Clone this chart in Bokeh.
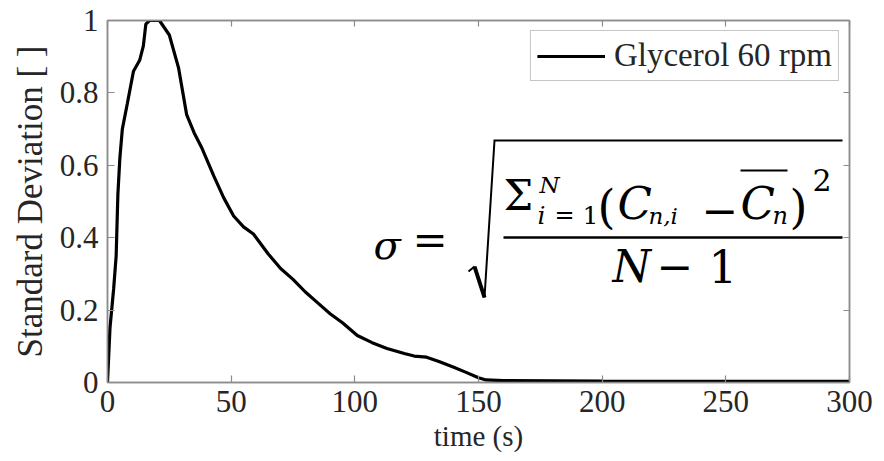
from bokeh.plotting import figure
from bokeh.models import Label, LinearAxis, FixedTicker, Range1d
from bokeh.embed import file_html
from bokeh.resources import INLINE

# ---- data ----
time_s = [0, 1, 2.5, 3.5, 4.2, 5, 6, 8, 10.5, 13, 14.5, 15.5, 17, 19, 21, 23, 25,
          28.7, 32, 35, 38, 43, 47, 51, 55, 59, 65, 70, 75, 80, 85, 90, 95, 101,
          107, 113, 120, 124, 129, 134, 140, 145, 150, 153, 160, 200, 250, 300]
std_dev = [0, 0.15, 0.26, 0.35, 0.52, 0.62, 0.70, 0.77, 0.86, 0.89, 0.93, 0.99,
           1.0, 1.0, 1.0, 0.98, 0.96, 0.87, 0.74, 0.69, 0.65, 0.57, 0.51, 0.46,
           0.43, 0.41, 0.355, 0.315, 0.285, 0.25, 0.22, 0.19, 0.165, 0.13, 0.11,
           0.094, 0.08, 0.073, 0.07, 0.058, 0.042, 0.028, 0.013, 0.007, 0.005,
           0.004, 0.003, 0.003]
series_name = "Glycerol 60 rpm"
x_ticks = [0, 50, 100, 150, 200, 250, 300]
y_ticks = [0, 0.2, 0.4, 0.6, 0.8, 1]
y_tick_labels = ["0", "0.2", "0.4", "0.6", "0.8", "1"]
x_label = "time (s)"
y_label = "Standard Deviation [ ]"

FONT = "Liberation Serif"
MATH = "DejaVu Serif"
AXIS_COL = "#8c8c8c"
TXT_COL = "#262626"

p = figure(width=884, height=461, output_backend="svg", toolbar_location=None,
           x_range=Range1d(0, 300), y_range=Range1d(0, 1),
           min_border_left=107, min_border_right=35, min_border_top=20,
           min_border_bottom=79)
p.grid.visible = False
p.outline_line_color = AXIS_COL
p.outline_line_width = 1.5
p.background_fill_color = "white"
p.border_fill_color = "white"

xa = p.xaxis[0]
ya = p.yaxis[0]
xa.axis_label = x_label
ya.axis_label = y_label
xa.ticker = FixedTicker(ticks=x_ticks)
ya.ticker = FixedTicker(ticks=y_ticks)
ya.major_label_overrides = {t: l for t, l in zip(y_ticks, y_tick_labels)}
xa.major_label_overrides = {t: str(t) for t in x_ticks}

for ax in (xa, ya):
    ax.axis_line_color = AXIS_COL
    ax.axis_line_width = 1.5
    ax.major_tick_line_color = AXIS_COL
    ax.major_tick_line_width = 1.2
    ax.major_tick_in = 7
    ax.major_tick_out = 0
    ax.minor_tick_line_color = None
    ax.major_label_text_font_size = "31px"
    ax.major_label_text_color = TXT_COL
    ax.axis_label_text_font_style = "normal"
    ax.axis_label_text_color = TXT_COL

xa.major_label_text_font = FONT
xa.axis_label_text_font = FONT
ya.major_label_text_font = "Times New Roman"
ya.axis_label_text_font = "Times New Roman"

ya.major_label_standoff = 9
ya.axis_label_text_font_size = "35px"
ya.axis_label_standoff = 7
xa.major_label_standoff = 8
xa.axis_label_text_font_size = "29px"
xa.axis_label_standoff = 5

# box ticks on top and right (no labels)
for loc, tk in (("above", x_ticks), ("right", y_ticks)):
    ax = LinearAxis(ticker=FixedTicker(ticks=tk))
    ax.axis_line_color = AXIS_COL
    ax.axis_line_width = 1.5
    ax.major_tick_line_color = AXIS_COL
    ax.major_tick_line_width = 1.2
    ax.major_tick_in = 6
    ax.major_tick_out = 0
    ax.minor_tick_line_color = None
    ax.major_label_text_font = FONT
    ax.axis_label_text_font = FONT
    ax.major_label_text_font_size = "0px"
    ax.major_label_text_color = None
    ax.major_label_standoff = 0
    p.add_layout(ax, loc)

p.line(time_s, std_dev, line_color="black", line_width=3.2, legend_label=series_name)

lg = p.legend[0]
lg.location = "top_right"
lg.margin = 10
lg.padding = 6
lg.spacing = 0
lg.border_line_color = AXIS_COL
lg.border_line_width = 1.5
lg.background_fill_alpha = 1
lg.label_text_font = FONT
lg.label_text_font_size = "33px"
lg.label_text_color = TXT_COL
lg.glyph_width = 68
lg.glyph_height = 20
lg.label_standoff = 9
lg.label_height = 20

# ---- formula annotation (page pixel -> data) ----
FL, FR, FT, FB = 107.0, 849.0, 20.0, 382.0
def dx(px):
    return (px - FL) / (FR - FL) * 300.0
def dy(py):
    return (FB - py) / (FB - FT)

def txt(s, px, py, size, italic=False, font=MATH):
    py = py - (6.5 + 0.24 * size)   # compensate label baseline placement
    p.add_layout(Label(x=dx(px), y=dy(py), text=s, text_font=font,
                       text_font_size=f"{size}px",
                       text_font_style="italic" if italic else "normal",
                       text_color="black", text_align="left",
                       text_baseline="alphabetic"))

def seg(xs, ys, w):
    p.line([dx(v) for v in xs], [dy(v) for v in ys], line_color="black",
           line_width=w, line_join="miter")

txt("σ", 373, 261, 40, True)
txt("=", 412, 257, 42)
# radical sign
seg([468, 474], [271, 266], 2)
seg([474, 484], [266, 297], 4)
seg([484, 494, 842], [297, 140, 140], 2)
# fraction bar
seg([503, 842], [237, 237], 2.5)
# numerator
txt("Σ", 503, 212, 42)
txt("N", 539, 197, 23, True)
txt("i", 537, 227, 25, True)
txt("=", 554, 227, 24)
txt("1", 582, 227, 25)
txt("(", 597, 224, 46)
txt("C", 617, 220, 45, True)
txt("n,i", 648, 228, 23, True)
txt("−", 701, 226, 44)
seg([740, 787], [170, 170], 2)
txt("C", 740, 220, 45, True)
txt("n", 772, 228, 24, True)
txt(")", 789, 224, 46)
txt("2", 812, 193, 30)
# denominator
txt("N", 612, 283, 44, True)
txt("−", 656, 282, 44)
txt("1", 708, 283, 45)

open("out.html", "w").write(file_html(p, INLINE))
